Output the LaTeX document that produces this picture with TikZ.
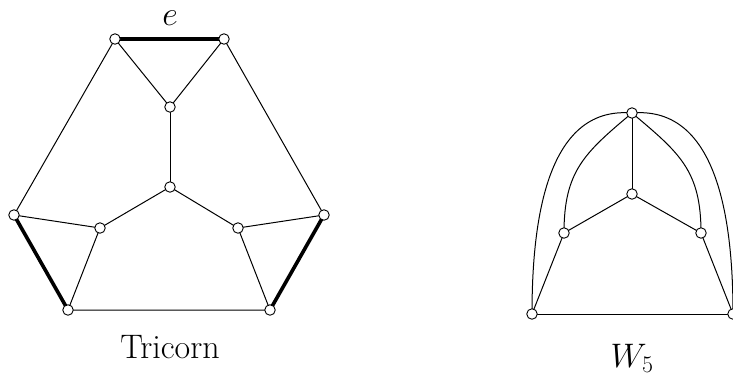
\RequirePackage{fix-cm}
\documentclass[tikz,border=0pt]{standalone}
\begin{document}
\begin{tikzpicture}[x=1pt,y=-1pt,
  v/.style={circle,draw,fill=white,inner sep=0pt,minimum size=10.5pt,line width=0.9pt},
  edge/.style={line width=1pt},
  thick edge/.style={line width=3.6pt},
  lbl/.style={font=\fontsize{34}{40}\selectfont,inner sep=0pt}]
\useasboundingbox (0,0) rectangle (733,384);
% Tricorn
\coordinate (A) at (115,39);
\coordinate (B) at (224,39);
\coordinate (C) at (170,107);
\coordinate (D) at (170,187);
\coordinate (L) at (14,215);
\coordinate (Li) at (100,228);
\coordinate (R) at (324,215);
\coordinate (Ri) at (238,228);
\coordinate (BL) at (68,310);
\coordinate (BR) at (270,310);
\draw[thick edge] (A) -- (B);
\draw[thick edge] (L) -- (BL);
\draw[thick edge] (R) -- (BR);
\draw[edge] (A) -- (C) -- (B);
\draw[edge] (A) -- (L) -- (Li) -- (BL) -- (BR) -- (Ri) -- (R) -- (B);
\draw[edge] (C) -- (D);
\draw[edge] (Li) -- (D) -- (Ri);
\foreach \p in {A,B,C,D,L,Li,R,Ri,BL,BR} \node[v] at (\p) {};
\node[lbl] (elabel) at (170,18.5) {$e$};
\node[lbl] (tlabel) at (170,347) {Tricorn};
% W5
\coordinate (T) at (632,113);
\coordinate (Cn) at (632,194);
\coordinate (Lm) at (564,233);
\coordinate (Rm) at (701,233);
\coordinate (WL) at (532,314);
\coordinate (WR) at (733,314);
\draw[edge] (T) -- (Cn);
\draw[edge] (Lm) -- (Cn) -- (Rm);
\draw[edge] (WL) -- (Lm);
\draw[edge] (WR) -- (Rm);
\draw[edge] (WL) -- (WR);
\draw[edge] (Lm) to[out=90,in=220,looseness=1.15] (T);
\draw[edge] (Rm) to[out=90,in=-40,looseness=1.15] (T);
\draw[edge] (WL) to[out=90,in=175] (T);
\draw[edge] (WR) to[out=90,in=5] (T);
\foreach \p in {T,Cn,Lm,Rm,WL,WR} \node[v] at (\p) {};
\node[lbl] (wlabel) at (632,358) {$W_5$};
\end{tikzpicture}
\end{document}
